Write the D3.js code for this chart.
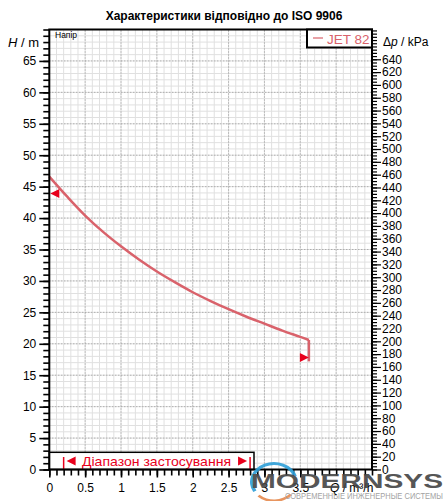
<!DOCTYPE html>
<html>
  <head>
    <meta charset="utf-8">
    <title>JET 82</title>
    <script src="https://d3js.org/d3.v7.min.js"></script>
    <style>
      body { margin: 0; background: #fff; }
      text { font-family: "Liberation Sans", Arial, sans-serif; }
    </style>
  </head>
  <body>
    <svg width="447" height="501"></svg>
    <script>
      // curve: flow Q (m3/h) and head H (m)
      const flowQ = [0, 0.25, 0.5, 0.75, 1, 1.25, 1.5, 1.75, 2, 2.25, 2.5, 2.75, 3, 3.25, 3.5, 3.62];
      const headH = [46.6, 43.4, 40.4, 37.8, 35.5, 33.4, 31.5, 29.8, 28.2, 26.8, 25.5, 24.3, 23.2, 22.1, 21.1, 20.6];
      const dropEnd = [3.62, 17.2];          // vertical end of the curve
      const markerLeft = [0, 43.9];          // ◄ on the H axis
      const markerRight = [3.62, 17.8];      // ► at the end
      const rangeQ = [0.2, 2.8];             // Діапазон застосування
      const hTicks = d3.range(0, 66, 5);
      const qTicks = [0, 0.5, 1, 1.5, 2, 2.5, 3, 3.5];
      const pTicks = d3.range(0, 641, 20);
      const kPaPerM = 9.80665;

      const svg = d3.select("svg");
      const red = "#d9626b";

      const x = d3.scaleLinear().domain([0, 4.5]).range([49.3, 372]);
      const y = d3.scaleLinear().domain([0, 70]).range([469.5, 29.5]);
      const yp = d3.scaleLinear().domain([0, 70 * kPaPerM]).range([469.5, 29.5]);

      // title
      svg.append("text")
        .attr("x", 224).attr("y", 20)
        .attr("text-anchor", "middle")
        .attr("font-size", 12).attr("font-weight", "bold")
        .text("Характеристики відповідно до ISO 9906");

      // minor grid
      const grid = svg.append("g");
      grid.selectAll(".vm").data(d3.range(1, 45)).join("line")
        .attr("x1", d => x(d / 10)).attr("x2", d => x(d / 10))
        .attr("y1", y(0)).attr("y2", y(70))
        .attr("stroke", "#e0e0e0");
      grid.selectAll(".hm").data(d3.range(1, 70)).join("line")
        .attr("y1", d => y(d)).attr("y2", d => y(d))
        .attr("x1", x(0)).attr("x2", x(4.5))
        .attr("stroke", "#e0e0e0");
      // major dotted grid
      grid.selectAll(".vM").data(d3.range(1, 9).map(d => d / 2)).join("line")
        .attr("x1", d => x(d)).attr("x2", d => x(d))
        .attr("y1", y(0)).attr("y2", y(70))
        .attr("stroke", "#999").attr("stroke-dasharray", "1,2");
      grid.selectAll(".hM").data(d3.range(5, 70, 5)).join("line")
        .attr("y1", d => y(d)).attr("y2", d => y(d))
        .attr("x1", x(0)).attr("x2", x(4.5))
        .attr("stroke", "#999").attr("stroke-dasharray", "1,2");

      svg.append("text").attr("x", 55).attr("y", 38)
        .attr("font-size", 8.5).text("Напір");

      // curve
      const pts = flowQ.map((q, i) => [q, headH[i]]);
      const line = d3.line().x(d => x(d[0])).y(d => y(d[1])).curve(d3.curveCatmullRom);
      svg.append("path").attr("d", line(pts))
        .attr("fill", "none").attr("stroke", red).attr("stroke-width", 2.5);
      const last = pts[pts.length - 1];
      svg.append("line")
        .attr("x1", x(last[0])).attr("y1", y(last[1]))
        .attr("x2", x(dropEnd[0])).attr("y2", y(dropEnd[1]))
        .attr("stroke", red).attr("stroke-width", 2.5);

      // red triangle markers
      const lx = x(markerLeft[0]), ly = y(markerLeft[1]);
      svg.append("path").attr("fill", "#e8001c")
        .attr("d", `M${lx + 1},${ly} L${lx + 10},${ly - 4.5} L${lx + 10},${ly + 4.5} Z`);
      const rx = x(markerRight[0]), ry = y(markerRight[1]);
      svg.append("path").attr("fill", "#e8001c")
        .attr("d", `M${rx},${ry} L${rx - 9},${ry - 4.5} L${rx - 9},${ry + 4.5} Z`);

      // range box
      const rb = svg.append("g");
      rb.append("rect")
        .attr("x", x(0)).attr("y", 452.3)
        .attr("width", 254 - x(0)).attr("height", y(0) - 452.3)
        .attr("fill", "#fff").attr("stroke", "#000").attr("stroke-width", 1.5);
      rb.selectAll(".rl").data(rangeQ).join("line")
        .attr("x1", d => x(d)).attr("x2", d => x(d))
        .attr("y1", 457).attr("y2", y(0))
        .attr("stroke", "#e8001c").attr("stroke-width", 1.5);
      const a = x(rangeQ[0]) + 3, b = x(rangeQ[1]) - 3, cy = 461;
      rb.append("path").attr("fill", "#e8001c")
        .attr("d", `M${a},${cy} L${a + 9},${cy - 4.5} L${a + 9},${cy + 4.5} Z`);
      rb.append("path").attr("fill", "#e8001c")
        .attr("d", `M${b},${cy} L${b - 9},${cy - 4.5} L${b - 9},${cy + 4.5} Z`);
      rb.append("text").attr("x", 82).attr("y", 466)
        .attr("font-size", 13).attr("fill", "#e8001c")
        .attr("textLength", 149).attr("lengthAdjust", "spacingAndGlyphs")
        .text("Діапазон застосування");

      // frame
      svg.append("rect")
        .attr("x", x(0)).attr("y", y(70))
        .attr("width", x(4.5) - x(0)).attr("height", y(0) - y(70))
        .attr("fill", "none").attr("stroke", "#000").attr("stroke-width", 2);

      // axes
      function styleAxis(g, w) {
        g.select(".domain").remove();
        g.selectAll(".tick line").attr("stroke", "#000").attr("stroke-width", w);
        g.selectAll("text").attr("font-size", 12).attr("fill", "#000")
          .attr("font-family", "Liberation Sans, Arial, sans-serif");
      }
      const gl = svg.append("g").attr("transform", `translate(${x(0)},0)`);
      gl.append("g").call(d3.axisLeft(y).tickValues(d3.range(0, 71, 1)).tickSize(6).tickFormat(""))
        .call(g => styleAxis(g, 1.6));
      gl.append("g").call(d3.axisLeft(y).tickValues(hTicks).tickSize(10).tickPadding(3))
        .call(g => styleAxis(g, 1.6));

      const gb = svg.append("g").attr("transform", `translate(0,${y(0)})`);
      gb.append("g").call(d3.axisBottom(x).tickValues(d3.range(0, 46, 1).map(d => d / 10)).tickSize(6).tickFormat(""))
        .call(g => styleAxis(g, 1.6));
      gb.append("g").call(d3.axisBottom(x).tickValues(qTicks).tickSize(8).tickPadding(6).tickFormat(d3.format("")))
        .call(g => styleAxis(g, 1.6));

      const gr = svg.append("g").attr("transform", `translate(${x(4.5)},0)`);
      gr.append("g").call(d3.axisRight(yp).tickValues(d3.range(0, 686, 5)).tickSize(5).tickFormat(""))
        .call(g => styleAxis(g, 1.2));
      gr.append("g").call(d3.axisRight(yp).tickValues(pTicks).tickSize(9).tickPadding(1))
        .call(g => styleAxis(g, 1.2));

      // axis titles
      const ht = svg.append("text").attr("x", 8).attr("y", 47).attr("font-size", 13);
      ht.append("tspan").attr("font-style", "italic").text("H");
      ht.append("tspan").text(" / m");
      const pt = svg.append("text").attr("x", 383).attr("y", 46).attr("font-size", 12);
      pt.append("tspan").text("Δ");
      pt.append("tspan").attr("font-style", "italic").text("p");
      pt.append("tspan").text(" / kPa");
      const qt = svg.append("text").attr("x", 330).attr("y", 492).attr("font-size", 12);
      qt.append("tspan").attr("font-style", "italic").text("Q");
      qt.append("tspan").text(" / m³/h");

      // legend
      svg.append("rect").attr("x", 307).attr("y", y(70))
        .attr("width", x(4.5) - 307).attr("height", 18)
        .attr("fill", "#fff").attr("stroke", "#000").attr("stroke-width", 2);
      svg.append("line").attr("x1", 313).attr("x2", 323).attr("y1", 38).attr("y2", 38)
        .attr("stroke", red).attr("stroke-width", 1.2);
      svg.append("text").attr("x", 327).attr("y", 43.5)
        .attr("font-size", 13.5).attr("fill", red).text("JET 82");

      // watermark
      const wm = svg.append("g").attr("opacity", 0.9);
      const arc = d3.arc();
      wm.append("path").attr("transform", "translate(274,482) scale(1.2,1)")
        .attr("d", arc({innerRadius: 17, outerRadius: 20, startAngle: -2.1, endAngle: 1.25}))
        .attr("fill", "#2e9fd8");
      wm.append("path").attr("transform", "translate(274,482) scale(1.2,1)")
        .attr("d", arc({innerRadius: 17.5, outerRadius: 20, startAngle: 2.3, endAngle: 3.9}))
        .attr("fill", "#e68a4e");
      wm.append("text").attr("x", 251).attr("y", 488)
        .attr("font-family", "DejaVu Sans").attr("font-weight", "bold")
        .attr("font-size", 20).attr("fill", "#444")
        .attr("textLength", 192).attr("lengthAdjust", "spacingAndGlyphs")
        .text("MODERNSYS");
      wm.append("text").attr("x", 285).attr("y", 499)
        .attr("font-family", "DejaVu Sans Condensed, DejaVu Sans").attr("font-size", 9)
        .attr("fill", "#999")
        .attr("textLength", 158).attr("lengthAdjust", "spacingAndGlyphs")
        .text("СОВРЕМЕННЫЕ ИНЖЕНЕРНЫЕ СИСТЕМЫ");
    </script>
  </body>
</html>
